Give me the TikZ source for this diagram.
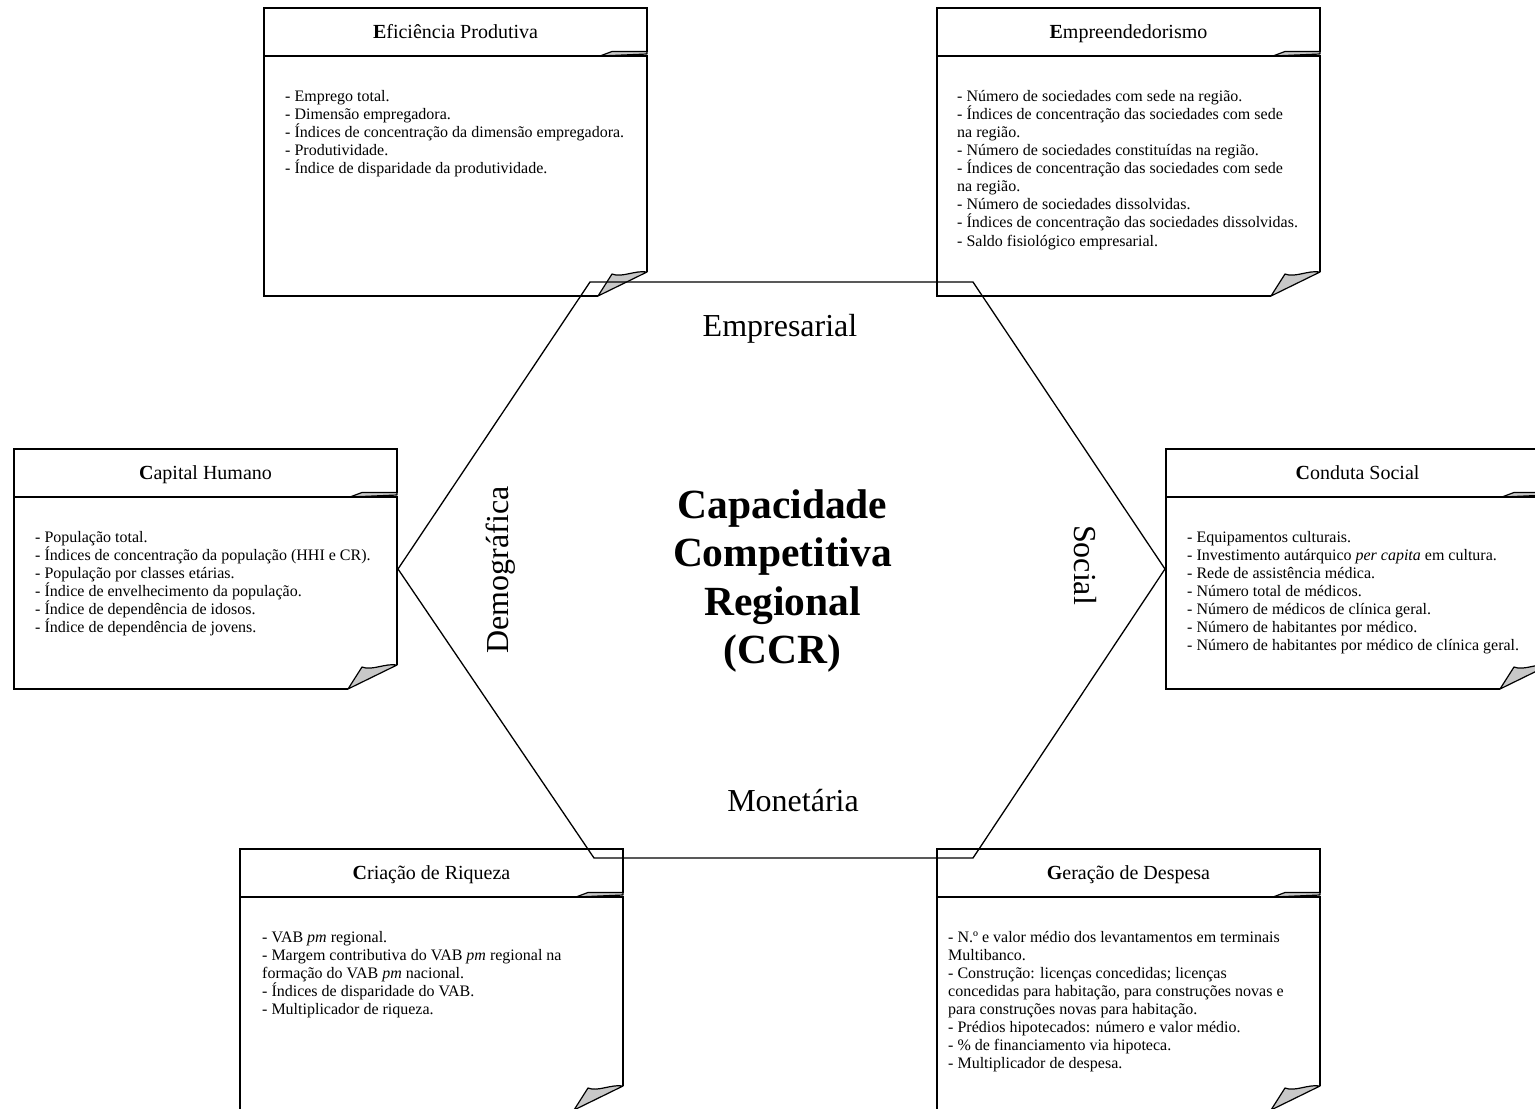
\documentclass[tikz,border=0pt]{standalone}
\usepackage{fontspec}
\setmainfont{Liberation Serif}
\definecolor{curlgray}{RGB}{200,200,200}
\tikzset{
  boxline/.style={line width=1.8pt, line join=miter},
  curl/.style={line width=1.2pt, fill=curlgray, line join=round},
  hexline/.style={line width=1.3pt, line join=miter},
  boxtitle/.style={anchor=base, inner sep=0pt, font=\fontsize{20}{24}\selectfont},
  boxbody/.style={anchor=north west, inner sep=0pt, align=left, font={\fontsize{16}{18.1}\selectfont\lineskiplimit=-20pt}},
  sidelabel/.style={anchor=base, inner sep=0pt, font=\fontsize{32}{38}\selectfont},
}
% #1 name, #2 left x, #3 top y, #4 bottom y, #5 text inset, #6 title, #7 body
\newcommand{\notebox}[7]{%
  \pgfmathsetmacro{\Lx}{#2}%
  \pgfmathsetmacro{\Rx}{#2+383}%
  \pgfmathsetmacro{\Ty}{#3}%
  \pgfmathsetmacro{\Dy}{#3+48}%
  \pgfmathsetmacro{\By}{#4}%
  \draw[boxline] (\Lx,\Dy) -- (\Lx,\Ty) -- (\Rx,\Ty) -- (\Rx,\Dy-4.5);
  \filldraw[curl] (\Rx-47,\Dy) -- (\Rx-35,\Dy-4.5) -- (\Rx,\Dy-4.5) -- (\Rx,\Dy-2) -- cycle;
  \draw[boxline] (\Rx-49,\By) -- (\Lx,\By) -- (\Lx,\Dy) -- (\Rx,\Dy) -- (\Rx,\By-24);
  \filldraw[curl] (\Rx-49,\By) -- (\Rx-35,\By-22) .. controls (\Rx-25,\By-18) and (\Rx-12,\By-26) .. (\Rx,\By-24) -- cycle;
  \node[boxtitle] (#1t) at ({(\Lx+\Rx)/2},\Ty+30.5) {#6};
  \node[boxbody] (#1b) at (\Lx+#5,\Dy+29) {\rule{0pt}{16pt}#7};
}
\begin{document}
\begin{tikzpicture}[x=1pt,y=-1pt]
\clip (0,0) rectangle (1535,1109);
\fill[white] (0,0) rectangle (1535,1109);

\notebox{efi}{264}{8}{296}{21}{\textbf{E}ficiência Produtiva}{%
- Emprego total.\\
- Dimensão empregadora.\\
- Índices de concentração da dimensão empregadora.\\
- Produtividade.\\
- Índice de disparidade da produtividade.}

\notebox{emp}{937}{8}{296}{20}{\textbf{E}mpreendedorismo}{%
- Número de sociedades com sede na região.\\
- Índices de concentração das sociedades com sede\\
na região.\\
- Número de sociedades constituídas na região.\\
- Índices de concentração das sociedades com sede\\
na região.\\
- Número de sociedades dissolvidas.\\
- Índices de concentração das sociedades dissolvidas.\\
- Saldo fisiológico empresarial.}

\notebox{cap}{14}{449}{689}{21}{\textbf{C}apital Humano}{%
- População total.\\
- Índices de concentração da população (HHI e CR).\\
- População por classes etárias.\\
- Índice de envelhecimento da população.\\
- Índice de dependência de idosos.\\
- Índice de dependência de jovens.}

\notebox{con}{1166}{449}{689}{21}{\textbf{C}onduta Social}{%
- Equipamentos culturais.\\
- Investimento autárquico \textit{per capita} em cultura.\\
- Rede de assistência médica.\\
- Número total de médicos.\\
- Número de médicos de clínica geral.\\
- Número de habitantes por médico.\\
- Número de habitantes por médico de clínica geral.}

\notebox{cri}{240}{849}{1110}{22}{\textbf{C}riação de Riqueza}{%
- VAB \textit{pm} regional.\\
- Margem contributiva do VAB \textit{pm} regional na\\
formação do VAB \textit{pm} nacional.\\
- Índices de disparidade do VAB.\\
- Multiplicador de riqueza.}

\notebox{ger}{937}{849}{1110}{11}{\textbf{G}eração de Despesa}{%
- N.º e valor médio dos levantamentos em terminais\\
Multibanco.\\
- Construção: licenças concedidas; licenças\\
concedidas para habitação, para construções novas e\\
para construções novas para habitação.\\
- Prédios hipotecados: número e valor médio.\\
- \% de financiamento via hipoteca.\\
- Multiplicador de despesa.}

% hexagon
\coordinate (h1) at (590,282);
\coordinate (h2) at (973,282);
\coordinate (h3) at (1165,569);
\coordinate (h4) at (973,858);
\coordinate (h5) at (594,858);
\coordinate (h6) at (398,569);
\draw[hexline] (h1) -- (h2) -- (h3) -- (h4) -- (h5) -- (h6) -- cycle;

\node[sidelabel] (lemp) at (780,336) {Empresarial};
\node[sidelabel] (lmon) at (793,811) {Monetária};
\node[sidelabel, rotate=90] (ldem) at (508,570) {Demográfica};
\node[sidelabel, rotate=-90] (lsoc) at (1074,565) {Social};

\node[anchor=north, inner sep=0pt, align=center,
      font={\fontsize{41.5}{48.5}\selectfont\bfseries\lineskiplimit=-30pt}] (ccr) at (782.5,478)
  {\rule{0pt}{40pt}Capacidade\\Competitiva\\Regional\\(CCR)};
\end{tikzpicture}
\end{document}
